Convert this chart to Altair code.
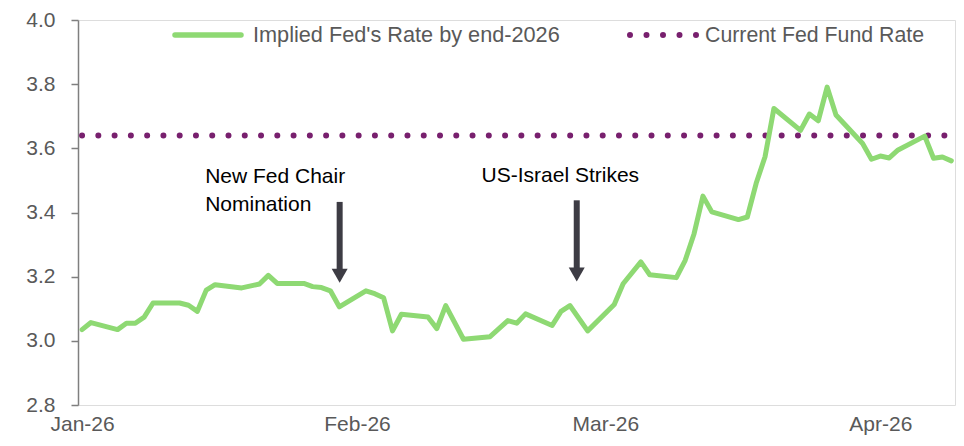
import altair as alt
import pandas as pd

# ---- data ----
dates = [
    "2026-01-01", "2026-01-02", "2026-01-05", "2026-01-06", "2026-01-07", "2026-01-08", "2026-01-09",
    "2026-01-12", "2026-01-13", "2026-01-14", "2026-01-15", "2026-01-16", "2026-01-19", "2026-01-21",
    "2026-01-22", "2026-01-23", "2026-01-26", "2026-01-27", "2026-01-28", "2026-01-29", "2026-01-30",
    "2026-02-02", "2026-02-03", "2026-02-04", "2026-02-05", "2026-02-06", "2026-02-09", "2026-02-10",
    "2026-02-11", "2026-02-13", "2026-02-16", "2026-02-18", "2026-02-19", "2026-02-20", "2026-02-23",
    "2026-02-24", "2026-02-25", "2026-02-27", "2026-03-02", "2026-03-03", "2026-03-05", "2026-03-06",
    "2026-03-09", "2026-03-10", "2026-03-11", "2026-03-12", "2026-03-13", "2026-03-16", "2026-03-17",
    "2026-03-18", "2026-03-19", "2026-03-20", "2026-03-23", "2026-03-24", "2026-03-25", "2026-03-26",
    "2026-03-27", "2026-03-30", "2026-03-31", "2026-04-01", "2026-04-02", "2026-04-03", "2026-04-06",
    "2026-04-07", "2026-04-08", "2026-04-09",
]
implied_rate = [
    3.035, 3.057, 3.035, 3.055, 3.055, 3.074, 3.118,
    3.118, 3.111, 3.092, 3.158, 3.175, 3.165, 3.177,
    3.204, 3.179, 3.179, 3.169, 3.166, 3.156, 3.106,
    3.156, 3.147, 3.134, 3.031, 3.083, 3.074, 3.038,
    3.110, 3.005, 3.013, 3.063, 3.055, 3.084, 3.048,
    3.092, 3.110, 3.031, 3.113, 3.178, 3.246, 3.206,
    3.197, 3.251, 3.334, 3.451, 3.402, 3.378, 3.386,
    3.491, 3.574, 3.724, 3.656, 3.707, 3.686, 3.791,
    3.704, 3.615, 3.566, 3.576, 3.570, 3.595, 3.638,
    3.569, 3.573, 3.561,
]
current_rate = [3.64]
current_start = ["2026-01-01"]
current_end = ["2026-04-09"]

series_names = ["Implied Fed's Rate by end-2026", "Current Fed Fund Rate"]
y_ticks = [2.8, 3.0, 3.2, 3.4, 3.6, 3.8, 4.0]
month_ticks = [(2026, 1), (2026, 2), (2026, 3), (2026, 4)]

annot_labels = ["New Fed Chair\nNomination", "US-Israel Strikes"]
annot_text_x = ["2026-01-14T21:00:00Z", "2026-02-15T01:00:00Z"]
annot_text_y = [3.4906, 3.4956]
arrow_x = ["2026-01-30T01:00:00Z", "2026-02-25T18:30:00Z"]
arrow_top = [3.433, 3.438]
arrow_base = [3.222, 3.225]
arrow_head = [3.203, 3.2066]

# ---- styles ----
GREEN = "#8ED973"
PURPLE = "#78206E"
ARROW = "#3D3C44"
GREY_TXT = "#595959"
FONT = "Liberation Sans"

df = pd.DataFrame({"date": dates, "rate": implied_rate})
cur = pd.DataFrame({"start": current_start, "end": current_end, "rate": current_rate})
ann = pd.DataFrame({"label": annot_labels, "x": annot_text_x, "y": annot_text_y})
arr = pd.DataFrame({"x": arrow_x, "top": arrow_top, "base": arrow_base, "head": arrow_head})

x_scale = alt.Scale(
    type="utc",
    domain=[
        alt.DateTime(year=2025, month=12, date=31, hours=13, utc=True),
        alt.DateTime(year=2026, month=4, date=9, hours=10, utc=True),
    ],
)
y_scale = alt.Scale(domain=[2.8, 4.0], nice=False, zero=False)

x_axis = alt.Axis(
    values=[alt.DateTime(year=y, month=m, date=1, utc=True) for y, m in month_ticks],
    labelExpr="utcFormat(datum.value, '%b-%y')",
    domain=False, ticks=False, tickSize=0, grid=False, title=None,
    labelPadding=25, labelBaseline="alphabetic", labelFlush=False, labelOverlap=False,
    labelFontSize=21, labelColor=GREY_TXT, labelFont=FONT,
)
y_axis = alt.Axis(
    values=y_ticks, format=".1f", grid=False, title=None,
    domainColor="#7F7F7F", domainWidth=1.5, tickColor="#7F7F7F", tickWidth=1.5, tickSize=7,
    labelPadding=16, labelFontSize=21, labelColor=GREY_TXT, labelFont=FONT,
)

line = alt.Chart(df).mark_line(
    color=GREEN, strokeWidth=5, strokeJoin="round", strokeCap="round"
).encode(
    x=alt.X("date:T", scale=x_scale, axis=x_axis),
    y=alt.Y("rate:Q", scale=y_scale, axis=y_axis),
)

cur_line = alt.Chart(cur).mark_rule(
    color=PURPLE, strokeWidth=6, strokeDash=[0, 16.27], strokeCap="round"
).encode(
    x=alt.X("start:T", scale=x_scale),
    x2="end:T",
    y=alt.Y("rate:Q", scale=y_scale),
)

shafts = alt.Chart(arr).mark_rule(color=ARROW, strokeWidth=6).encode(
    x=alt.X("x:T", scale=x_scale),
    y=alt.Y("top:Q", scale=y_scale),
    y2="base:Q",
)
heads = alt.Chart(arr).mark_point(
    shape="M-1,-0.875L1,-0.875L0,0.875Z", size=256, filled=True, opacity=1,
    color=ARROW, strokeWidth=0,
).encode(
    x=alt.X("x:T", scale=x_scale),
    y=alt.Y("head:Q", scale=y_scale),
)

ann_text = alt.Chart(ann).mark_text(
    align="left", baseline="alphabetic", fontSize=21, font=FONT, color="#000000",
    lineBreak="\n", lineHeight=28,
).encode(
    x=alt.X("x:T", scale=x_scale),
    y=alt.Y("y:Q", scale=y_scale),
    text="label:N",
)

# ---- legend (drawn in plot-area pixels) ----
leg1 = pd.DataFrame({"label": [series_names[0]]})
leg2 = pd.DataFrame({"label": [series_names[1]]})
leg_line = alt.Chart(leg1).mark_rule(color=GREEN, strokeWidth=5.5, strokeCap="round").encode(
    x=alt.value(97), x2=alt.value(163), y=alt.value(15)
)
leg_text1 = alt.Chart(leg1).mark_text(
    align="left", baseline="alphabetic", fontSize=21.7, font=FONT, color=GREY_TXT
).encode(x=alt.value(175), y=alt.value(22), text="label:N")
leg_dots = alt.Chart(leg2).mark_rule(
    color=PURPLE, strokeWidth=6, strokeDash=[0, 16.5], strokeCap="round"
).encode(x=alt.value(552), x2=alt.value(619), y=alt.value(15))
leg_text2 = alt.Chart(leg2).mark_text(
    align="left", baseline="alphabetic", fontSize=21.3, font=FONT, color=GREY_TXT
).encode(x=alt.value(627), y=alt.value(22), text="label:N")

chart = alt.layer(
    cur_line, line, shafts, heads, ann_text, leg_line, leg_text1, leg_dots, leg_text2
).properties(
    width=877, height=385,
    padding={"left": 70, "top": 12, "right": 1, "bottom": 33},
    autosize=alt.AutoSizeParams(type="none"),
).configure_view(stroke=None).configure(font=FONT)

chart.save("out.html", embed_options={"renderer": "svg", "actions": False})
